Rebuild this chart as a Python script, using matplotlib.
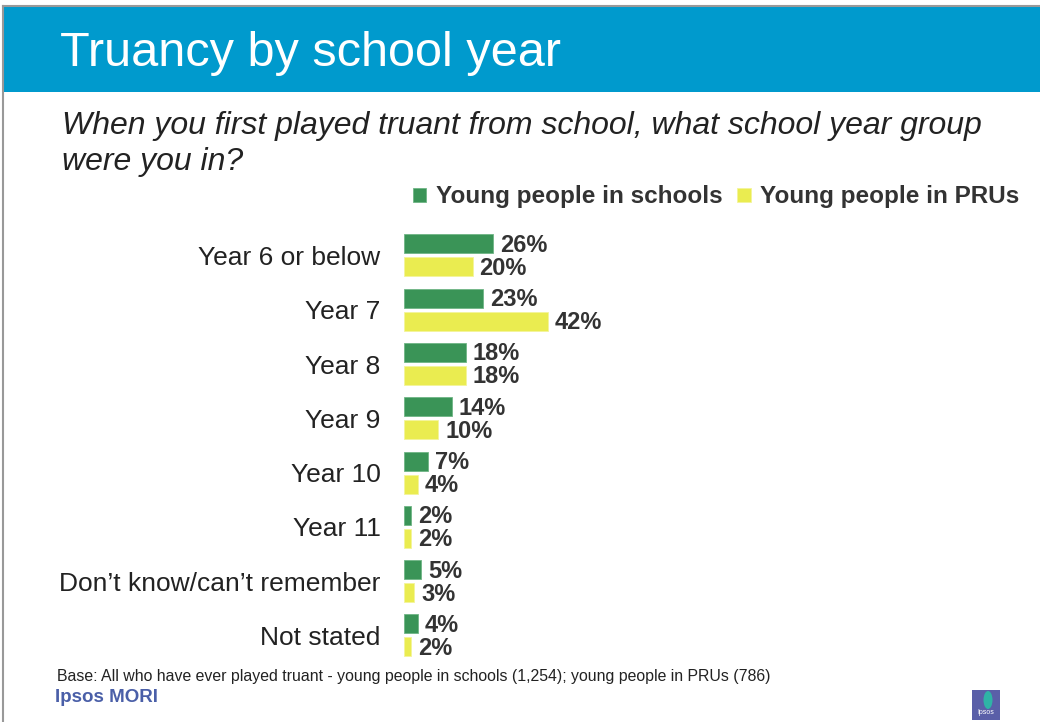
import matplotlib.pyplot as plt
import matplotlib.patches as mpatches
import numpy as np

plt.rcParams['font.family'] = ['Liberation Sans', 'DejaVu Sans']

categories = ['Year 6 or below', 'Year 7', 'Year 8', 'Year 9', 'Year 10',
              'Year 11', 'Don\u2019t know/can\u2019t remember', 'Not stated']
schools = [26, 23, 18, 14, 7, 2, 5, 4]
prus = [20, 42, 18, 10, 4, 2, 3, 2]
series_names = ['Young people in schools', 'Young people in PRUs']

green = '#3a9457'
yellow = '#eaec50'
text_col = '#333333'

W, H = 1040, 722
fig = plt.figure(figsize=(W / 100, H / 100), dpi=100)

# page frame and header band
fig.add_artist(mpatches.Rectangle((4 / W, 1 - 92 / H), 1, 85 / H, transform=fig.transFigure,
                                  color='#009acd', lw=0))
fig.add_artist(plt.Line2D([3 / W, 3 / W], [0, 1 - 6 / H], transform=fig.transFigure,
                          color='#999999', lw=1.5))
fig.add_artist(plt.Line2D([3 / W, 1], [1 - 6 / H, 1 - 6 / H], transform=fig.transFigure,
                          color='#999999', lw=1.5))

fig.text(60 / W, 1 - 54 / H, 'Truancy by school year', color='white', fontsize=35,
         va='center', ha='left')
fig.text(62 / W, 1 - 144 / H,
         'When you first played truant from school, what school year group\nwere you in?',
         fontsize=23, style='italic', color='#222222', va='center', ha='left',
         linespacing=1.3)

# bar area
ax = fig.add_axes([404 / W, 1 - (228.3 + 434.3) / H, 343 / W, 434.3 / H])
y = np.arange(len(categories))
bh = 0.35
off = 0.212
b1 = ax.barh(y - off, schools, height=bh, color=green, edgecolor='#6fb585', lw=0.6)
b2 = ax.barh(y + off, prus, height=bh, color=yellow, edgecolor='#f3f49a', lw=0.6)
for bars, vals in ((b1, schools), (b2, prus)):
    for bar, v in zip(bars, vals):
        ax.annotate(f'{v}%', (bar.get_width(), bar.get_y() + bar.get_height() / 2),
                    xytext=(5, -1), textcoords='offset points', va='center', ha='left',
                    fontsize=17, fontweight='bold', color=text_col)

ax.set_xlim(0, 100)
ax.set_ylim(len(categories) - 0.5, -0.5)
ax.set_yticks(y)
ax.set_yticklabels(categories, fontsize=19, color='#222222')
ax.tick_params(axis='y', length=0, pad=17)
ax.set_xticks([])
for s in ax.spines.values():
    s.set_visible(False)
ax.patch.set_alpha(0)

fig.legend([b1, b2], series_names, ncol=2, frameon=False, loc='center left',
           bbox_to_anchor=(413 / W, 1 - 197 / H), prop={'size': 17.5, 'weight': 'bold'},
           handlelength=0.55, handleheight=0.55, handletextpad=0.4, columnspacing=0.6,
           labelcolor=text_col, borderaxespad=0, borderpad=0)

fig.text(57 / W, 1 - 676 / H,
         'Base: All who have ever played truant - young people in schools (1,254); '
         'young people in PRUs (786)',
         fontsize=11.4, color='#222222', va='center', ha='left')
fig.text(55 / W, 1 - 698 / H, 'Ipsos MORI', fontsize=13.5, fontweight='bold',
         color='#4a5fa8', va='center', ha='left')

# small logo, bottom right
fig.add_artist(mpatches.Rectangle((972 / W, 1 - 720 / H), 28 / W, 30 / H,
                                  transform=fig.transFigure, color='#5a5fa8', lw=0))
fig.add_artist(mpatches.Ellipse((988 / W, 1 - 700 / H), 9 / W, 18 / H,
                                transform=fig.transFigure, color='#2fb3a6', lw=0))
fig.text(986 / W, 1 - 713 / H, 'Ipsos', fontsize=5, color='white', ha='center', va='center')

fig.savefig('out.png', dpi=100)
